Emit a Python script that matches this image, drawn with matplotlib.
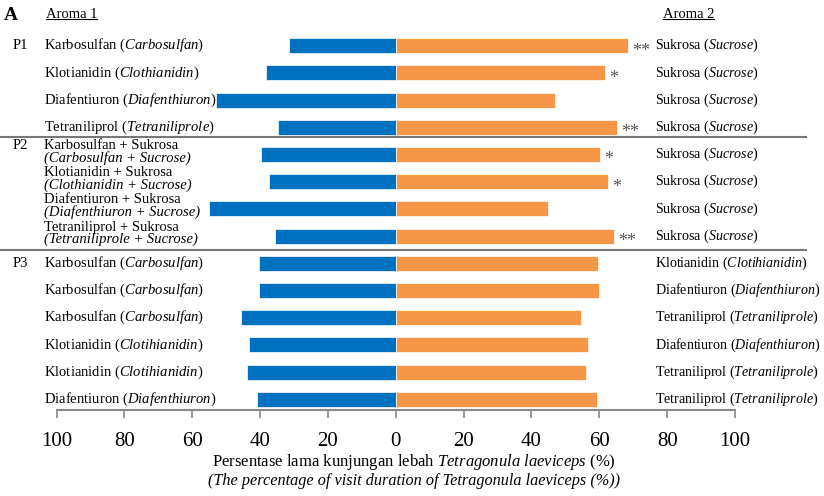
import numpy as np
import matplotlib
matplotlib.use("Agg")
import matplotlib.pyplot as plt
import matplotlib.transforms as mtransforms

plt.rcParams['font.family'] = ['Liberation Serif', 'DejaVu Serif']
plt.rcParams['mathtext.fontset'] = 'custom'
plt.rcParams['mathtext.rm'] = 'Liberation Serif'
plt.rcParams['mathtext.it'] = 'Liberation Serif:italic'

# data (percent of visit duration)
aroma1 = [31.5, 38.2, 53.1, 34.7,
          39.8, 37.5, 55.2, 35.7,
          40.4, 40.2, 45.5, 43.2, 44.0, 40.8]
aroma2 = [68.5, 61.8, 46.9, 65.3,
          60.2, 62.5, 44.8, 64.3,
          59.6, 59.8, 54.5, 56.8, 56.0, 59.2]
stars = ['**', '*', '', '**',
         '*', '*', '', '**',
         '', '', '', '', '', '']

left_roman = ['Karbosulfan', 'Klotianidin', 'Diafentiuron', 'Tetraniliprol',
              'Karbosulfan + Sukrosa', 'Klotianidin + Sukrosa',
              'Diafentiuron + Sukrosa', 'Tetraniliprol + Sukrosa',
              'Karbosulfan', 'Karbosulfan', 'Karbosulfan',
              'Klotianidin', 'Klotianidin', 'Diafentiuron']
left_italic = ['Carbosulfan', 'Clothianidin', 'Diafenthiuron', 'Tetraniliprole',
               'Carbosulfan + Sucrose', 'Clothianidin + Sucrose',
               'Diafenthiuron + Sucrose', 'Tetraniliprole + Sucrose',
               'Carbosulfan', 'Carbosulfan', 'Carbosulfan',
               'Clotihianidin', 'Clotihianidin', 'Diafenthiuron']
right_roman = ['Sukrosa'] * 8 + ['Klotianidin', 'Diafentiuron', 'Tetraniliprol',
                                 'Diafentiuron', 'Tetraniliprol', 'Tetraniliprol']
right_italic = ['Sucrose'] * 8 + ['Clotihianidin', 'Diafenthiuron', 'Tetraniliprole',
                                  'Diafenthiuron', 'Tetraniliprole', 'Tetraniliprole']
groups = ['P1', 'P2', 'P3']
group_rows = [0, 4, 8]
two_line_rows = [4, 5, 6, 7]

blue = '#0070C0'
orange = '#F79646'

fig = plt.figure(figsize=(8.24, 4.96), dpi=100)
ax = fig.add_axes([0.0686, 1 - 410 / 496, 0.8234, (410 - 29.4) / 496])

y = np.arange(len(aroma1))
ax.barh(y, -np.array(aroma1), height=0.55, color=blue, edgecolor='white', linewidth=0.5)
ax.barh(y, aroma2, height=0.55, color=orange, edgecolor='white', linewidth=0.5)

for i, s in enumerate(stars):
    if s:
        ax.annotate(s, (aroma2[i], i + 0.2), xytext=(3, 0), textcoords='offset points',
                    ha='left', va='center', fontsize=13, color='#555555')

ax.set_xlim(-100, 100)
ax.set_ylim(13.39, -0.6)
ticks = np.arange(-100, 101, 20)
ax.set_xticks(ticks)
ax.set_xticklabels([str(abs(t)) for t in ticks], fontsize=15)
ax.set_yticks([])
for side in ['top', 'left', 'right']:
    ax.spines[side].set_visible(False)
ax.spines['bottom'].set_color('#888888')
ax.spines['bottom'].set_linewidth(1.5)
ax.tick_params(axis='x', direction='out', length=6, width=1.2, color='#888888', pad=10)

trans = mtransforms.blended_transform_factory(fig.transFigure, ax.transData)

for i in range(len(aroma1)):
    if i in two_line_rows:
        ax.text(44 / 824, i - 0.33, left_roman[i], transform=trans, ha='left', va='center', fontsize=10.5)
        ax.text(44 / 824, i + 0.12, '(' + left_italic[i] + ')', transform=trans, ha='left',
                va='center', fontsize=10.5, fontstyle='italic')
    else:
        it = left_italic[i].replace(' ', r'\ ')
        ax.text(44 / 824, i, left_roman[i] + r' $\mathit{(' + it + ')}$', transform=trans,
                ha='left', va='center', fontsize=10.5)
    it = right_italic[i].replace(' ', r'\ ')
    ax.text(655 / 824, i, right_roman[i] + r' $\mathit{(' + it + ')}$', transform=trans,
            ha='left', va='center', fontsize=10.1)

for g, r in zip(groups, group_rows):
    yy = r - 0.33 if r in two_line_rows else r
    ax.text(13 / 824, yy, g, transform=trans, ha='left', va='center', fontsize=10.5)

for sep in [3.36, 7.5]:
    ax.plot([0, 806 / 824], [sep, sep], transform=trans, color='#777777', lw=1.5, clip_on=False)

fig.text(4 / 824, 1 - 16 / 496, 'A', fontsize=14, fontweight='bold', ha='left', va='center')
h1 = fig.text(46 / 824, 1 - 14 / 496, 'Aroma 1', fontsize=10.5, ha='left', va='center')
h2 = fig.text(663 / 824, 1 - 14 / 496, 'Aroma 2', fontsize=10.5, ha='left', va='center')

fig.text(414 / 824, 1 - 462 / 496,
         r'Persentase lama kunjungan lebah $\mathit{Tetragonula\ laeviceps}$ (%)',
         fontsize=12, ha='center', va='center')
fig.text(414 / 824, 1 - 481 / 496,
         '(The percentage of visit duration of Tetragonula laeviceps (%))',
         fontsize=11.7, ha='center', va='center', fontstyle='italic')

# underline the two headers
fig.canvas.draw()
r = fig.canvas.get_renderer()
for h in [h1, h2]:
    bb = h.get_window_extent(r).transformed(fig.transFigure.inverted())
    fig.add_artist(plt.Line2D([bb.x0, bb.x1], [bb.y0 + 0.004, bb.y0 + 0.004],
                              transform=fig.transFigure, color='black', lw=0.8))

fig.savefig('out.png', dpi=100)
